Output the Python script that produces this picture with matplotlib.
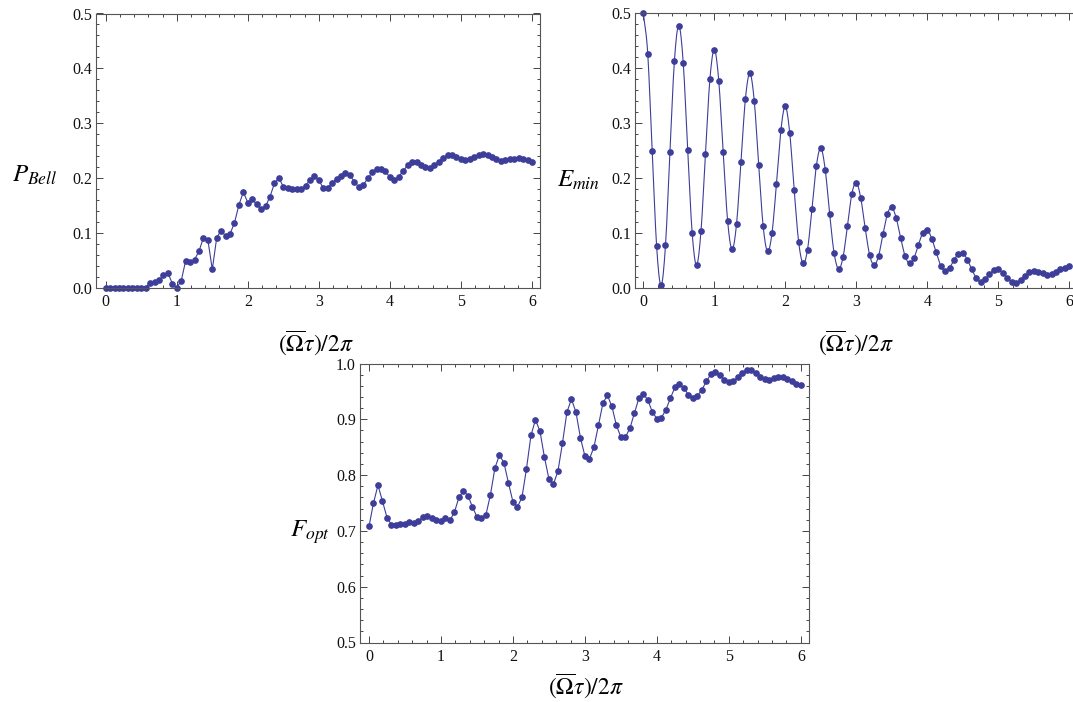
import numpy as np
import matplotlib
matplotlib.use("Agg")
import matplotlib.pyplot as plt
from matplotlib.ticker import MultipleLocator, FormatStrFormatter

plt.rcParams['mathtext.fontset'] = 'stix'
plt.rcParams['font.family'] = ['Liberation Serif', 'DejaVu Serif']

n_pts = 97
t = np.arange(n_pts) / 16.0

p_bell = [0, 0, 0, 0, 0, 0, 0, 0, 0, 0,
          0.009, 0.010, 0.013, 0.022, 0.027, 0.007, 0.0, 0.012, 0.049, 0.046,
          0.051, 0.066, 0.091, 0.087, 0.033, 0.091, 0.104, 0.094, 0.098, 0.118,
          0.151, 0.174, 0.155, 0.161, 0.152, 0.143, 0.148, 0.166, 0.190, 0.200,
          0.184, 0.181, 0.180, 0.180, 0.180, 0.186, 0.196, 0.204,
          0.196, 0.181, 0.182, 0.191, 0.198, 0.204, 0.209, 0.205, 0.193, 0.183,
          0.187, 0.199, 0.210, 0.216, 0.216, 0.212, 0.201, 0.196, 0.202, 0.213,
          0.223, 0.229, 0.229, 0.224, 0.220, 0.218, 0.223, 0.229, 0.237, 0.241,
          0.241, 0.238, 0.234, 0.232, 0.234, 0.238, 0.241, 0.243, 0.242, 0.238,
          0.234, 0.231, 0.232, 0.234, 0.235, 0.236, 0.235, 0.232, 0.229]

e_min = [0.500, 0.426, 0.249, 0.075, 0.004, 0.077, 0.247, 0.412, 0.477, 0.409,
         0.251, 0.100, 0.041, 0.103, 0.243, 0.379, 0.433, 0.377, 0.246, 0.121,
         0.070, 0.115, 0.228, 0.343, 0.390, 0.340, 0.223, 0.112, 0.066, 0.099,
         0.189, 0.287, 0.330, 0.281, 0.177, 0.083, 0.044, 0.069, 0.143, 0.222,
         0.254, 0.214, 0.133, 0.062, 0.034, 0.055, 0.112,
         0.171, 0.191, 0.163, 0.108, 0.059, 0.041, 0.057, 0.097, 0.134, 0.146,
         0.126, 0.090, 0.057, 0.044, 0.054, 0.078, 0.100, 0.105, 0.089, 0.064,
         0.040, 0.030, 0.036, 0.050, 0.061, 0.062, 0.051, 0.033, 0.018, 0.010,
         0.015, 0.024, 0.032, 0.033, 0.027, 0.017, 0.010, 0.008, 0.013, 0.021,
         0.028, 0.030, 0.029, 0.026, 0.023, 0.024, 0.028, 0.033, 0.035, 0.039]

f_opt = [0.708, 0.750, 0.782, 0.753, 0.724, 0.711, 0.711, 0.712, 0.713, 0.716,
         0.714, 0.717, 0.725, 0.727, 0.723, 0.719, 0.718, 0.724, 0.719, 0.734,
         0.760, 0.772, 0.763, 0.743, 0.725, 0.723, 0.729, 0.765, 0.813, 0.836,
         0.822, 0.786, 0.752, 0.743, 0.760, 0.811, 0.871, 0.899, 0.879, 0.832,
         0.793,
         0.784, 0.807, 0.857, 0.913, 0.936, 0.913, 0.867, 0.834, 0.829, 0.850,
         0.889, 0.929, 0.943, 0.923, 0.889, 0.868, 0.868, 0.884, 0.911, 0.938,
         0.946, 0.934, 0.913, 0.901, 0.903, 0.917, 0.938, 0.957, 0.963, 0.956,
         0.944, 0.938, 0.942, 0.953, 0.968, 0.981, 0.985, 0.980, 0.971, 0.967,
         0.969, 0.975, 0.983, 0.989, 0.989, 0.983, 0.976, 0.972, 0.971, 0.974,
         0.975, 0.975, 0.973, 0.968, 0.963, 0.961]

x_label = r'$(\overline{\Omega}\tau)/2\pi$'

COLOR = '#3d3d9a'
W, H = 1073, 702


def catmull_rom(x, y, sub=8):
    x = np.asarray(x, float)
    y = np.asarray(y, float)
    xp = np.concatenate([[2 * x[0] - x[1]], x, [2 * x[-1] - x[-2]]])
    yp = np.concatenate([[2 * y[0] - y[1]], y, [2 * y[-1] - y[-2]]])
    xs, ys = [], []
    s = np.linspace(0, 1, sub, endpoint=False)
    for i in range(1, len(xp) - 2):
        p0, p1, p2, p3 = yp[i - 1], yp[i], yp[i + 1], yp[i + 2]
        ys.append(0.5 * ((2 * p1) + (-p0 + p2) * s + (2 * p0 - 5 * p1 + 4 * p2 - p3) * s ** 2
                         + (-p0 + 3 * p1 - 3 * p2 + p3) * s ** 3))
        xs.append(xp[i] + (xp[i + 1] - xp[i]) * s)
    xs.append([x[-1]])
    ys.append([y[-1]])
    return np.concatenate(xs), np.concatenate(ys)


def px_axes(fig, left, top, right, bottom):
    return fig.add_axes([left / W, 1 - bottom / H, (right - left) / W, (bottom - top) / H])


def style(ax, xlim, ylim, ymaj):
    ax.set_xlim(*xlim)
    ax.set_ylim(*ylim)
    ax.xaxis.set_major_locator(MultipleLocator(1))
    ax.xaxis.set_minor_locator(MultipleLocator(0.2))
    ax.yaxis.set_major_locator(MultipleLocator(ymaj))
    ax.yaxis.set_minor_locator(MultipleLocator(ymaj / 5))
    ax.tick_params(which='both', direction='in', top=True, right=True,
                   colors='#444444', labelcolor='#111111', labelsize=11.5, width=0.7)
    ax.tick_params(which='major', length=5)
    ax.tick_params(which='minor', length=2.5)
    ax.tick_params(axis='x', which='major', pad=5)
    ax.tick_params(axis='y', which='major', pad=3)
    for sp in ax.spines.values():
        sp.set_color('#555555')
        sp.set_linewidth(0.8)
    ax.yaxis.set_major_formatter(FormatStrFormatter('%.1f'))


fig = plt.figure(figsize=(W / 100, H / 100), dpi=100)

# Panel 1: P_Bell
ax1 = px_axes(fig, 96, 13.5, 540, 287.5)
style(ax1, (-0.137, 6.113), (0, 0.5), 0.1)
ax1.plot(t, p_bell, '-', color=COLOR, lw=0.8, clip_on=False)
ax1.plot(t, p_bell, 'o', color=COLOR, ms=3.8, mec=COLOR, clip_on=False)
fig.text(35 / W, 1 - 175 / H, r'$P_{Bell}$', fontsize=18, ha='center', va='center')
fig.text(316 / W, 1 - 343 / H, x_label, fontsize=17, ha='center', va='center')

# Panel 2: E_min
ax2 = px_axes(fig, 635, 13, 1082, 287.5)
style(ax2, (-0.117, 6.178), (0, 0.5), 0.1)
xs, ys = catmull_rom(t, e_min)
ax2.plot(xs, ys, '-', color=COLOR, lw=0.8, clip_on=False)
ax2.plot(t, e_min, 'o', color=COLOR, ms=3.8, mec=COLOR, clip_on=False)
fig.text(579 / W, 1 - 180 / H, r'$E_{min}$', fontsize=18, ha='center', va='center')
fig.text(856 / W, 1 - 343 / H, x_label, fontsize=17, ha='center', va='center')

# Panel 3: F_opt
ax3 = px_axes(fig, 360, 363.5, 809.5, 642.5)
style(ax3, (-0.125, 6.12), (0.5, 1.0), 0.1)
ax3.plot(t, f_opt, '-', color=COLOR, lw=0.8, clip_on=False)
ax3.plot(t, f_opt, 'o', color=COLOR, ms=3.8, mec=COLOR, clip_on=False)
fig.text(310 / W, 1 - 532 / H, r'$F_{opt}$', fontsize=18, ha='center', va='center')
fig.text(586 / W, 1 - 686 / H, x_label, fontsize=17, ha='center', va='center')

fig.savefig('out.png', dpi=100)
